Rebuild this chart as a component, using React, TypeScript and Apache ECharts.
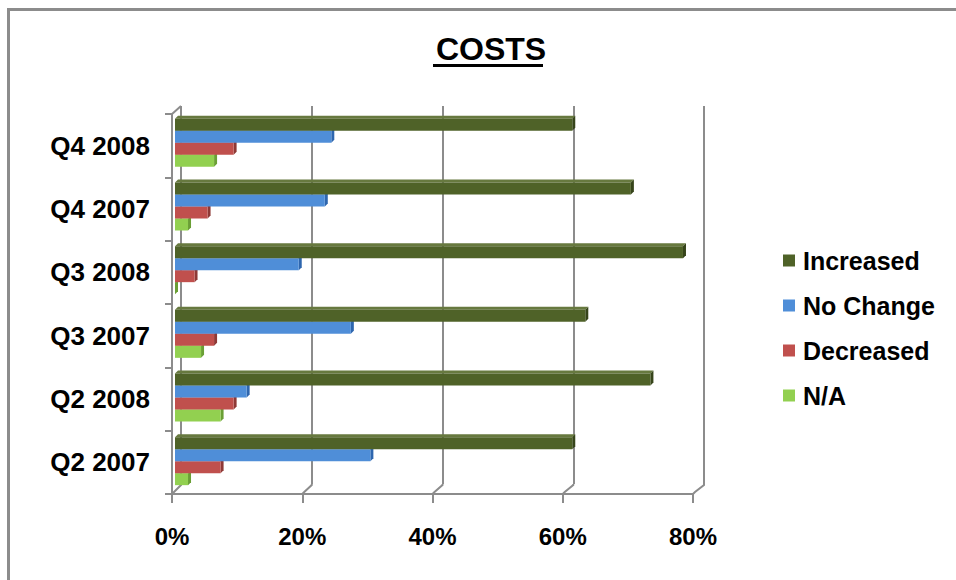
import React, { useEffect, useRef } from "react";
import * as echarts from "echarts";

// Survey shares (percent), categories listed top to bottom
const categories = ["Q4 2008", "Q4 2007", "Q3 2008", "Q3 2007", "Q2 2008", "Q2 2007"];
const increased = [61, 70, 78, 63, 73, 61];
const noChange = [24, 23, 19, 27, 11, 30];
const decreased = [9, 5, 3, 6, 9, 7];
const notApplicable = [6, 2, 0, 4, 7, 2];
const xTicks = [0, 20, 40, 60, 80];

const seriesDefs = [
  { name: "Increased", data: increased, color: "#4F6228", top: "#67793F", side: "#36441A" },
  { name: "No Change", data: noChange, color: "#4F8ED8", top: "#7AA9E4", side: "#2E66AE" },
  { name: "Decreased", data: decreased, color: "#C0504D", top: "#D27572", side: "#8E3936" },
  { name: "N/A", data: notApplicable, color: "#92D050", top: "#B2E07E", side: "#6A9F35" },
];

// three planes of the pseudo-3D box: back wall, front axes, bar plane
const GRID_BACK = { left: 181, top: 106, width: 523, height: 378 };
const GRID_FRONT = { left: 172, top: 114, width: 521, height: 380 };
const GRID_BARS = { left: 175, top: 111, width: 521, height: 382 };

const FONT = "'Liberation Sans', Arial, sans-serif";
const AXIS_GREY = "#8C8C8C";
const BAR_H = 12;
const DEPTH = 3;

function makeRenderer(idx: number, def: (typeof seriesDefs)[number]) {
  return (_params: any, api: any) => {
    const v = api.value(0);
    const cat = api.value(1);
    const end = api.coord([v, cat]);
    const start = api.coord([0, cat]);
    const y = end[1] - 2 * BAR_H + idx * BAR_H;
    const x0 = start[0];
    const x1 = end[0];
    return {
      type: "group",
      children: [
        {
          type: "polygon",
          shape: { points: [[x0, y], [x0 + DEPTH, y - DEPTH], [x1 + DEPTH, y - DEPTH], [x1, y]] },
          style: { fill: def.top },
        },
        {
          type: "polygon",
          shape: { points: [[x1, y], [x1 + DEPTH, y - DEPTH], [x1 + DEPTH, y + BAR_H - DEPTH], [x1, y + BAR_H]] },
          style: { fill: def.side },
        },
        {
          type: "rect",
          shape: { x: x0, y, width: Math.max(x1 - x0, 0), height: BAR_H },
          style: { fill: def.color },
        },
      ],
    };
  };
}

export default function App() {
  const ref = useRef<HTMLDivElement>(null);

  useEffect(() => {
    if (!ref.current) return;
    const chart = echarts.init(ref.current, undefined, { renderer: "svg" });

    const option: any = {
      animation: false,
      backgroundColor: "#FFFFFF",
      title: {
        text: "COSTS",
        left: 486,
        top: 28,
        textAlign: "center",
        textStyle: { fontFamily: FONT, fontSize: 32, fontWeight: "bold", color: "#000" },
      },
      legend: {
        orient: "vertical",
        left: 783,
        top: 248,
        padding: 0,
        itemWidth: 12,
        itemHeight: 12,
        itemGap: 20,
        icon: "rect",
        data: seriesDefs.map((d) => d.name),
        textStyle: { fontFamily: FONT, fontSize: 25, fontWeight: "bold", color: "#000", padding: [0, 0, 0, 3] },
      },
      grid: [
        { ...GRID_BACK, containLabel: false },
        { ...GRID_FRONT, containLabel: false },
        { ...GRID_BARS, containLabel: false },
      ],
      xAxis: [
        {
          gridIndex: 0,
          type: "value",
          min: 0,
          max: 80,
          interval: 20,
          axisLine: { show: false },
          axisTick: { show: false },
          axisLabel: { show: false },
          splitLine: { show: true, lineStyle: { color: AXIS_GREY, width: 2 } },
        },
        {
          gridIndex: 1,
          type: "value",
          min: 0,
          max: 80,
          interval: 20,
          axisLine: { show: true, lineStyle: { color: AXIS_GREY, width: 2 } },
          axisTick: { show: true, length: 9, lineStyle: { color: AXIS_GREY, width: 2 } },
          axisLabel: {
            margin: 30,
            formatter: "{value}%",
            fontFamily: FONT,
            fontSize: 24,
            fontWeight: "bold",
            color: "#000",
          },
          splitLine: { show: false },
        },
        {
          gridIndex: 2,
          type: "value",
          min: 0,
          max: 80,
          show: false,
        },
      ],
      yAxis: [
        {
          gridIndex: 0,
          type: "category",
          data: categories,
          inverse: true,
          show: false,
        },
        {
          gridIndex: 1,
          type: "category",
          data: categories,
          inverse: true,
          axisLine: { show: true, lineStyle: { color: AXIS_GREY, width: 2 } },
          axisTick: { show: true, length: 7, lineStyle: { color: AXIS_GREY, width: 2 } },
          axisLabel: {
            margin: 22,
            padding: [6, 0, 0, 0],
            fontFamily: FONT,
            fontSize: 26,
            fontWeight: "bold",
            color: "#000",
          },
          splitLine: { show: false },
        },
        {
          gridIndex: 2,
          type: "category",
          data: categories,
          inverse: true,
          show: false,
        },
      ],
      series: seriesDefs.map((def, idx) => ({
        name: def.name,
        type: "custom",
        coordinateSystem: "cartesian2d",
        xAxisIndex: 2,
        yAxisIndex: 2,
        z: 10 - idx,
        itemStyle: { color: def.color },
        encode: { x: 0, y: 1 },
        data: def.data.map((v, i) => [v, i]),
        renderItem: makeRenderer(idx, def),
      })),
    };

    chart.setOption(option);

    // frame decorations: depth connectors between the front axes and back wall
    const frontBottom = GRID_FRONT.top + GRID_FRONT.height;
    const backBottom = GRID_BACK.top + GRID_BACK.height;
    const connectors = xTicks.map((t) => {
      const fx = chart.convertToPixel({ xAxisIndex: 1 }, t) as number;
      const bx = chart.convertToPixel({ xAxisIndex: 0 }, t) as number;
      return {
        type: "polyline",
        shape: { points: [[fx, frontBottom], [fx + 2, frontBottom - 2], [bx, backBottom + 1], [bx, backBottom]] },
        style: { stroke: AXIS_GREY, lineWidth: 2, fill: null },
        silent: true,
      };
    });
    const topConnector = {
      type: "line",
      shape: { x1: GRID_FRONT.left, y1: GRID_FRONT.top, x2: GRID_BACK.left, y2: GRID_BACK.top },
      style: { stroke: AXIS_GREY, lineWidth: 2 },
      silent: true,
    };

    chart.setOption({
      graphic: [
        // outer frame: only its top and left edges fall inside the view
        {
          type: "line",
          shape: { x1: 7, y1: 9.5, x2: 956, y2: 9.5 },
          style: { stroke: "#8C8C8C", lineWidth: 3 },
          silent: true,
        },
        {
          type: "line",
          shape: { x1: 8.5, y1: 8, x2: 8.5, y2: 580 },
          style: { stroke: "#8C8C8C", lineWidth: 3 },
          silent: true,
        },
        // white margin strip along the right edge
        {
          type: "rect",
          shape: { x: 937, y: 11, width: 19, height: 569 },
          style: { fill: "#FFFFFF" },
          z: 100,
          silent: true,
        },
        {
          type: "rect",
          shape: { x: 433, y: 64, width: 110, height: 3 },
          style: { fill: "#000" },
          silent: true,
        },
        topConnector,
        ...connectors,
      ],
    });

    return () => chart.dispose();
  }, []);

  return (
    <div
      ref={ref}
      style={{ position: "absolute", left: 0, top: 0, width: 956, height: 580 }}
    />
  );
}
